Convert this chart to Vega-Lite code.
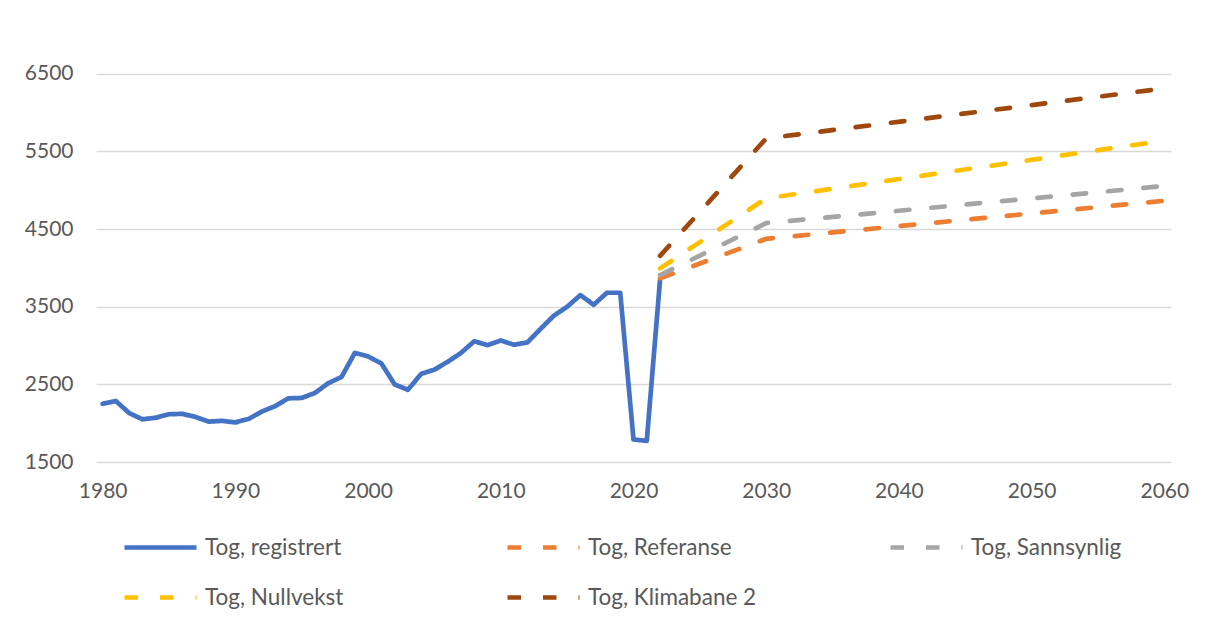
{
  "$schema": "https://vega.github.io/schema/vega-lite/v6.json",
  "width": 1075,
  "height": 427,
  "autosize": "none",
  "padding": {"left": 96, "top": 35, "right": 42, "bottom": 159},
  "background": "white",
  "config": {
    "font": "Lato",
    "view": {"stroke": null},
    "axis": {"labelFont": "Lato", "labelFontSize": 21, "labelColor": "#595959", "title": null, "domain": false, "ticks": false, "tickSize": 0},
    "legend": {
      "orient": "none",
      "direction": "horizontal",
      "legendX": 26,
      "legendY": 474,
      "title": null,
      "columns": 3,
      "gridAlign": "all",
      "columnPadding": 124,
      "rowPadding": -36,
      "padding": 0,
      "symbolType": "stroke",
      "symbolSize": 5184,
      "symbolStrokeWidth": 4.7,
      "symbolOffset": 0,
      "labelOffset": 6,
      "labelFont": "Lato",
      "labelFontSize": 22.5,
      "labelColor": "#595959",
      "labelLimit": 400
    }
  },
  "data": {
    "values": [
      {"series": "Tog, registrert", "year": 1980, "value": 2250},
      {"series": "Tog, registrert", "year": 1981, "value": 2285},
      {"series": "Tog, registrert", "year": 1982, "value": 2130},
      {"series": "Tog, registrert", "year": 1983, "value": 2050},
      {"series": "Tog, registrert", "year": 1984, "value": 2070},
      {"series": "Tog, registrert", "year": 1985, "value": 2115},
      {"series": "Tog, registrert", "year": 1986, "value": 2120},
      {"series": "Tog, registrert", "year": 1987, "value": 2080},
      {"series": "Tog, registrert", "year": 1988, "value": 2020},
      {"series": "Tog, registrert", "year": 1989, "value": 2030},
      {"series": "Tog, registrert", "year": 1990, "value": 2010},
      {"series": "Tog, registrert", "year": 1991, "value": 2055},
      {"series": "Tog, registrert", "year": 1992, "value": 2150},
      {"series": "Tog, registrert", "year": 1993, "value": 2220},
      {"series": "Tog, registrert", "year": 1994, "value": 2320},
      {"series": "Tog, registrert", "year": 1995, "value": 2325},
      {"series": "Tog, registrert", "year": 1996, "value": 2390},
      {"series": "Tog, registrert", "year": 1997, "value": 2515},
      {"series": "Tog, registrert", "year": 1998, "value": 2595},
      {"series": "Tog, registrert", "year": 1999, "value": 2905},
      {"series": "Tog, registrert", "year": 2000, "value": 2860},
      {"series": "Tog, registrert", "year": 2001, "value": 2770},
      {"series": "Tog, registrert", "year": 2002, "value": 2500},
      {"series": "Tog, registrert", "year": 2003, "value": 2430},
      {"series": "Tog, registrert", "year": 2004, "value": 2635},
      {"series": "Tog, registrert", "year": 2005, "value": 2690},
      {"series": "Tog, registrert", "year": 2006, "value": 2790},
      {"series": "Tog, registrert", "year": 2007, "value": 2905},
      {"series": "Tog, registrert", "year": 2008, "value": 3055},
      {"series": "Tog, registrert", "year": 2009, "value": 3005},
      {"series": "Tog, registrert", "year": 2010, "value": 3065},
      {"series": "Tog, registrert", "year": 2011, "value": 3010},
      {"series": "Tog, registrert", "year": 2012, "value": 3040},
      {"series": "Tog, registrert", "year": 2013, "value": 3215},
      {"series": "Tog, registrert", "year": 2014, "value": 3385},
      {"series": "Tog, registrert", "year": 2015, "value": 3500},
      {"series": "Tog, registrert", "year": 2016, "value": 3650},
      {"series": "Tog, registrert", "year": 2017, "value": 3525},
      {"series": "Tog, registrert", "year": 2018, "value": 3680},
      {"series": "Tog, registrert", "year": 2019, "value": 3680},
      {"series": "Tog, registrert", "year": 2020, "value": 1790},
      {"series": "Tog, registrert", "year": 2021, "value": 1772},
      {"series": "Tog, registrert", "year": 2022, "value": 3845},
      {"series": "Tog, Referanse", "year": 2022, "value": 3865},
      {"series": "Tog, Referanse", "year": 2030, "value": 4375},
      {"series": "Tog, Referanse", "year": 2060, "value": 4865},
      {"series": "Tog, Sannsynlig", "year": 2022, "value": 3907},
      {"series": "Tog, Sannsynlig", "year": 2030, "value": 4577},
      {"series": "Tog, Sannsynlig", "year": 2060, "value": 5055},
      {"series": "Tog, Nullvekst", "year": 2022, "value": 3994},
      {"series": "Tog, Nullvekst", "year": 2030, "value": 4896},
      {"series": "Tog, Nullvekst", "year": 2060, "value": 5640},
      {"series": "Tog, Klimabane 2", "year": 2022, "value": 4155},
      {"series": "Tog, Klimabane 2", "year": 2030, "value": 5668},
      {"series": "Tog, Klimabane 2", "year": 2060, "value": 6312}
    ]
  },
  "mark": {"type": "line", "strokeWidth": 4.7, "strokeCap": "round", "strokeJoin": "round", "clip": false},
  "encoding": {
    "x": {
      "field": "year",
      "type": "quantitative",
      "scale": {"domain": [1979.5, 2060.5], "nice": false, "zero": false},
      "axis": {"values": [1980, 1990, 2000, 2010, 2020, 2030, 2040, 2050, 2060], "format": "d", "grid": false, "labelPadding": 18}
    },
    "y": {
      "field": "value",
      "type": "quantitative",
      "scale": {"domain": [1500, 7000], "nice": false, "zero": false},
      "axis": {"values": [1500, 2500, 3500, 4500, 5500, 6500], "format": "d", "grid": true, "gridColor": "#D9D9D9", "gridWidth": 1.3, "labelPadding": 23}
    },
    "color": {
      "field": "series",
      "type": "nominal",
      "sort": null,
      "scale": {
        "domain": ["Tog, registrert", "Tog, Referanse", "Tog, Sannsynlig", "Tog, Nullvekst", "Tog, Klimabane 2"],
        "range": ["#4472C4", "#ED7D31", "#A5A5A5", "#FFC000", "#9E480E"]
      }
    },
    "strokeDash": {
      "field": "series",
      "type": "nominal",
      "sort": null,
      "scale": {
        "domain": ["Tog, registrert", "Tog, Referanse", "Tog, Sannsynlig", "Tog, Nullvekst", "Tog, Klimabane 2"],
        "range": [[1, 0], [13.5, 22], [13.5, 22], [13.5, 22], [13.5, 22]]
      }
    }
  }
}
